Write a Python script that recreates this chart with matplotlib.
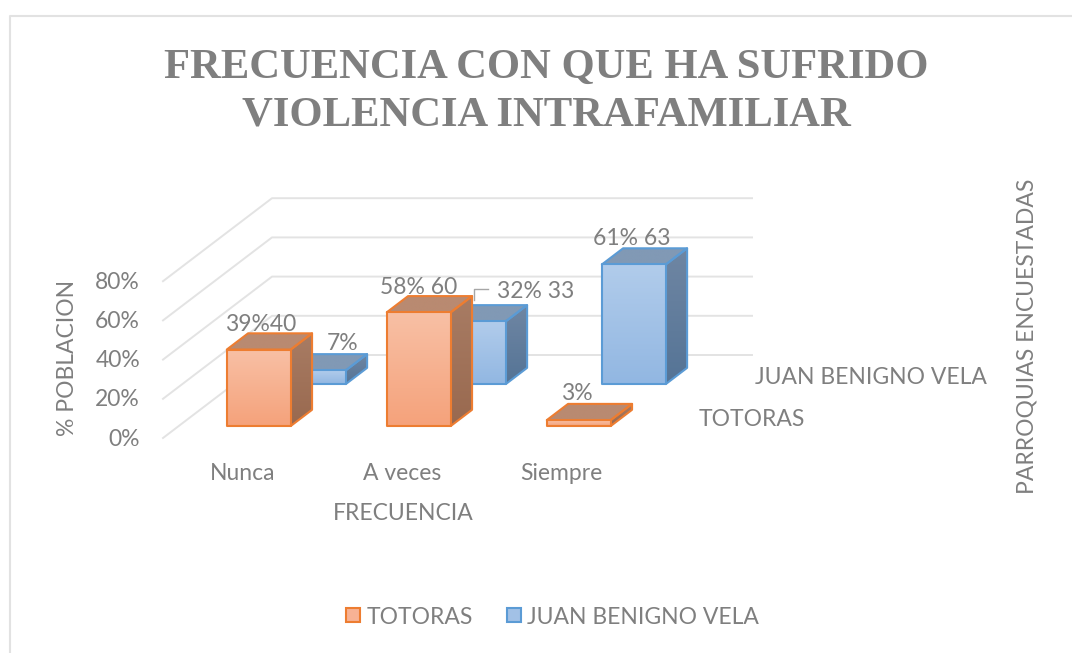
import numpy as np
import matplotlib
matplotlib.use('Agg')
from matplotlib import pyplot as plt
from matplotlib.colors import LinearSegmentedColormap
from matplotlib.patches import Polygon, Rectangle

# datos
categorias = ['Nunca', 'A veces', 'Siempre']
totoras = [39, 58, 3]
juan_benigno = [7, 32, 61]
etiquetas_totoras = ['39%40', '58% 60', '3%']
etiquetas_juan = ['7%', '32% 33', '61% 63']
ticks_y = [0, 20, 40, 60, 80]
series = ['TOTORAS', 'JUAN BENIGNO VELA']
titulo = 'FRECUENCIA CON QUE HA SUFRIDO\nVIOLENCIA INTRAFAMILIAR'

GRIS = '#7f7f7f'
FUENTE = 'Lato'
TAM = 16.5

# proyeccion oblicua: categoria (0..3), valor (%), profundidad (0..1) -> pixeles
X0, Y0 = 163, 438
PX_CAT = 160
PX_VAL = 1.96
PX_DX = 109
PX_DY = 83


def proj(c, v, d):
    return X0 + c * PX_CAT + d * PX_DX, Y0 - v * PX_VAL - d * PX_DY


def cara(ax, puntos, color_a, color_b, borde, z):
    # poligono con degradado vertical
    puntos = np.array(puntos)
    xa, xb = puntos[:, 0].min(), puntos[:, 0].max()
    ya, yb = puntos[:, 1].min(), puntos[:, 1].max()
    cmap = LinearSegmentedColormap.from_list('g', [color_a, color_b])
    im = ax.imshow(np.linspace(0, 1, 64).reshape(-1, 1), cmap=cmap, extent=(xa, xb, yb, ya),
                   aspect='auto', zorder=z, interpolation='bilinear')
    pol = Polygon(puntos, closed=True, facecolor='none', edgecolor=borde, linewidth=1.5,
                  joinstyle='round', zorder=z + 0.1)
    ax.add_patch(pol)
    im.set_clip_path(pol)


def barra(ax, c, v, d0, estilo, z):
    ancho = 0.2
    prof = 0.195
    a, b = c + 0.5 - ancho, c + 0.5 + ancho
    d1 = d0 + prof
    cara(ax, [proj(a, v, d0), proj(b, v, d0), proj(b, v, d1), proj(a, v, d1)],
         estilo['tapa'], estilo['tapa'], estilo['borde'], z)
    cara(ax, [proj(b, 0, d0), proj(b, v, d0), proj(b, v, d1), proj(b, 0, d1)],
         estilo['lado'][0], estilo['lado'][1], estilo['borde'], z)
    cara(ax, [proj(a, 0, d0), proj(b, 0, d0), proj(b, v, d0), proj(a, v, d0)],
         estilo['frente'][0], estilo['frente'][1], estilo['borde'], z + 0.2)


fig = plt.figure(figsize=(10.72, 6.53), dpi=100)
ax = fig.add_axes([0, 0, 1, 1])
ax.axis('off')

# borde del grafico
ax.plot([10, 10, 1072], [653, 16, 16], color='#e2e2e2', lw=1.5, zorder=1)

# rejilla
for t in ticks_y:
    xs, ys = zip(proj(0, t, 0), proj(0, t, 1), proj(3, t, 1))
    ax.plot(xs, ys, color='#e3e3e3', lw=1.4, zorder=1)
    ax.text(140, proj(0, t, 0)[1] + 1, f'{t}%', ha='right', va='center', color=GRIS,
            fontsize=TAM, family=FUENTE)

estilo_nar = {'frente': ('#f8c0a5', '#f5a27b'), 'lado': ('#a87c64', '#99694f'),
              'tapa': '#b98a71', 'borde': '#ed7d31'}
estilo_azu = {'frente': ('#b1cceb', '#92b7e2'), 'lado': ('#6f86a3', '#557496'),
              'tapa': '#8199b5', 'borde': '#5b9bd5'}

# primero la serie del fondo
for i in range(len(categorias)):
    barra(ax, i, juan_benigno[i], 0.65, estilo_azu, 3 + i)
for i in range(len(categorias)):
    barra(ax, i, totoras[i], 0.145, estilo_nar, 7 + i)

# etiquetas de datos
despl_tot = [(19, -25), (17, -25), (15, -27)]
despl_juan = [(62, -27), (95, -30), (31, -26)]
for i in range(len(categorias)):
    x, y = proj(i + 0.5 - 0.205, totoras[i], 0.145)
    ax.text(x + despl_tot[i][0] + 16, y + despl_tot[i][1], etiquetas_totoras[i], ha='center', va='center',
            color=GRIS, fontsize=TAM, family=FUENTE, zorder=20)
    x, y = proj(i + 0.5 - 0.205, juan_benigno[i], 0.65)
    ax.text(x + despl_juan[i][0], y + despl_juan[i][1], etiquetas_juan[i], ha='center', va='center',
            color=GRIS, fontsize=TAM, family=FUENTE, zorder=20)

# linea guia de la etiqueta 32%
x, y = proj(1 + 0.5 + 0.205, totoras[1], 0.35)
ax.plot([x, x, x + 14], [y + 5, y - 6, y - 6], color='#a6a6a6', lw=1, zorder=20)

# categorias y nombres de ejes
for i, c in enumerate(categorias):
    ax.text(proj(i + 0.5, 0, 0)[0] - i, 474, c, ha='center', va='center', color=GRIS, fontsize=TAM, family=FUENTE)
ax.text(403, 514, 'FRECUENCIA', ha='center', va='center', color=GRIS, fontsize=TAM, family=FUENTE)
ax.text(67, 358, '% POBLACION', ha='center', va='center', rotation=90, color=GRIS, fontsize=TAM, family=FUENTE)
ax.text(1027, 336, 'PARROQUIAS ENCUESTADAS', ha='center', va='center', rotation=90, color=GRIS,
        fontsize=TAM, family=FUENTE)
ax.text(755, 378, series[1], ha='left', va='center', color=GRIS, fontsize=TAM, family=FUENTE)
ax.text(699, 419, series[0], ha='left', va='center', color=GRIS, fontsize=TAM, family=FUENTE)

# titulo
ax.text(546, 91.5, titulo, ha='center', va='center', color=GRIS, fontsize=30.7, fontweight='bold',
        family='Liberation Serif', linespacing=1.34)

# leyenda
ax.add_patch(Rectangle((346, 608), 14, 14, facecolor='#f7b294', edgecolor='#ed7d31', lw=1.5))
ax.text(367, 617, series[0], ha='left', va='center', color=GRIS, fontsize=TAM, family=FUENTE)
ax.add_patch(Rectangle((507, 608), 14, 14, facecolor='#a2c1e6', edgecolor='#5b9bd5', lw=1.5))
ax.text(527, 617, series[1], ha='left', va='center', color=GRIS, fontsize=TAM, family=FUENTE)

ax.set_xlim(0, 1072)
ax.set_ylim(653, 0)
fig.savefig('out.png', dpi=100, facecolor='white')
